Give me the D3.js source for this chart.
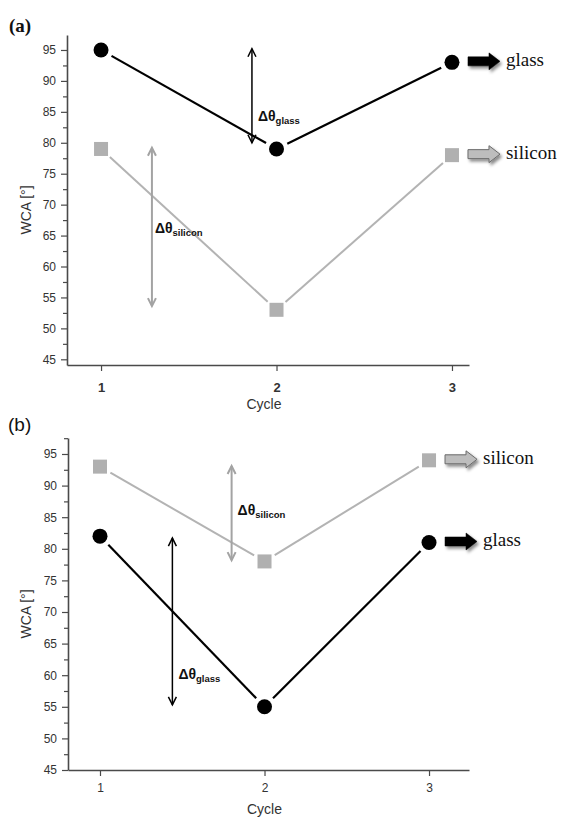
<!DOCTYPE html>
<html>
<head>
<meta charset="utf-8">
<script src="https://cdn.jsdelivr.net/npm/d3@7"></script>
<style>
  html, body { margin: 0; padding: 0; background: #fff; }
  svg { display: block; }
</style>
</head>
<body>
<script>
// ---- data ----
const cycles = [1, 2, 3];
const xTickLabels = ["1", "2", "3"];
const yTickValues = [45, 50, 55, 60, 65, 70, 75, 80, 85, 90, 95];

// water contact angle per cycle, panel (a)
const glassA = [95, 79, 93];
const siliconA = [79, 53, 78];
// panel (b)
const siliconB = [93, 78, 94];
const glassB = [82, 55, 81];

// Δθ spans: [cycle position, from WCA, to WCA, label WCA]
const deltaGlassA = [1.86, 95.2, 80.0, 83.5];
const deltaSiliconA = [1.29, 79.2, 53.6, 65.4];
const deltaSiliconB = [1.80, 93.1, 78.2, 85.3];
const deltaGlassB = [1.44, 81.7, 55.3, 59.4];

// ---- look ----
const BLACK = "#000";
const GREY_LINE = "#b3b3b3";
const GREY_MARK = "#b0b0b0";
const GREY_ARROW = "#a3a3a3";
const AXIS = "#4a4a4a";
const SANS = "'Liberation Sans', Arial, sans-serif";
const SERIF = "'Liberation Serif', 'Times New Roman', serif";

const W = 562, H = 820;
const svg = d3.select("body").append("svg").attr("width", W).attr("height", H);

const defs = svg.append("defs");
const shadow = defs.append("filter").attr("id", "shadow")
  .attr("x", "-30%").attr("y", "-50%").attr("width", "170%").attr("height", "220%");
shadow.append("feDropShadow").attr("dx", 2).attr("dy", 2.5).attr("stdDeviation", 1.6)
  .attr("flood-color", "#000").attr("flood-opacity", 0.45);

const panels = [
  {
    tag: "(a)", tagFont: SERIF, tagWeight: "bold", tagX: 9, tagY: 32,
    box: { l: 67, r: 469, t: 35, b: 365 },
    xDomain: [0.806, 3.097], yDomain: [44.08, 97.42],
    xBold: true, xFont: 13, xLabelDy: 27, titleDy: 44,
    series: [
      { name: "glass", values: glassA, kind: "glass" },
      { name: "silicon", values: siliconA, kind: "silicon" }
    ],
    deltas: [
      { span: deltaGlassA, kind: "glass", sub: "glass", dx: 6 },
      { span: deltaSiliconA, kind: "silicon", sub: "silicon", dx: 3 }
    ]
  },
  {
    tag: "(b)", tagFont: SANS, tagWeight: "normal", tagX: 8, tagY: 431,
    box: { l: 68, r: 469, t: 438, b: 770 },
    xDomain: [0.8055, 3.243], yDomain: [45, 97.53],
    xBold: false, xFont: 12, xLabelDy: 22, titleDy: 44,
    series: [
      { name: "silicon", values: siliconB, kind: "silicon" },
      { name: "glass", values: glassB, kind: "glass" }
    ],
    deltas: [
      { span: deltaSiliconB, kind: "silicon", sub: "silicon", dx: 6 },
      { span: deltaGlassB, kind: "glass", sub: "glass", dx: 6 }
    ]
  }
];

function drawPanel(p) {
  const g = svg.append("g");
  const x = d3.scaleLinear().domain(p.xDomain).range([p.box.l, p.box.r]);
  const y = d3.scaleLinear().domain(p.yDomain).range([p.box.b, p.box.t]);

  // panel tag
  g.append("text").attr("x", p.tagX).attr("y", p.tagY)
    .attr("font-family", p.tagFont).attr("font-weight", p.tagWeight)
    .attr("font-size", 19).attr("fill", "#111").text(p.tag);

  // y axis: minor ticks then major ticks with labels
  const minor = d3.range(47.5, p.yDomain[1] + 0.001, 5);
  g.append("g").attr("transform", `translate(${p.box.l},0)`)
    .call(d3.axisLeft(y).tickValues(minor).tickSize(4).tickSizeOuter(0).tickFormat(""))
    .call(a => a.select(".domain").remove())
    .call(a => a.selectAll("line").attr("stroke", AXIS).attr("stroke-width", 1.2));
  const yAx = g.append("g").attr("transform", `translate(${p.box.l},0)`)
    .call(d3.axisLeft(y).tickValues(yTickValues).tickSize(6).tickSizeOuter(0).tickPadding(5));
  yAx.select(".domain").attr("stroke", AXIS).attr("stroke-width", 1.6);
  yAx.selectAll("line").attr("stroke", AXIS).attr("stroke-width", 1.2);
  yAx.selectAll("text").attr("font-family", SANS).attr("font-size", 12).attr("fill", "#333");

  // x axis
  const xAx = g.append("g").attr("transform", `translate(0,${p.box.b})`)
    .call(d3.axisBottom(x).tickValues(cycles).tickSize(6).tickSizeOuter(0).tickPadding(5)
      .tickFormat((d, i) => xTickLabels[i]));
  xAx.select(".domain").attr("stroke", AXIS).attr("stroke-width", 1.6);
  xAx.selectAll("line").attr("stroke", AXIS).attr("stroke-width", 1.2);
  xAx.selectAll("text").attr("font-family", SANS).attr("font-size", p.xFont)
    .attr("font-weight", p.xBold ? "bold" : "normal").attr("fill", "#333")
    .attr("y", p.xLabelDy).attr("dy", 0);

  // axis titles
  g.append("text").attr("x", (p.box.l + p.box.r) / 2 - 4).attr("y", p.box.b + p.titleDy)
    .attr("text-anchor", "middle").attr("font-family", SANS).attr("font-size", 14)
    .attr("fill", "#333").text("Cycle");
  const ty = (p.box.t + p.box.b) / 2 + 10;
  g.append("text").attr("transform", `translate(31,${ty}) rotate(-90)`)
    .attr("text-anchor", "middle").attr("font-family", SANS).attr("font-size", 14)
    .attr("fill", "#333").text("WCA [°]");

  // series
  p.series.forEach(s => {
    const col = s.kind === "glass" ? BLACK : GREY_LINE;
    const pts = s.values.map((v, i) => [x(cycles[i]), y(v)]);
    const gap = 12;
    for (let i = 0; i < pts.length - 1; i++) {
      const [x0, y0] = pts[i], [x1, y1] = pts[i + 1];
      const len = Math.hypot(x1 - x0, y1 - y0);
      const ux = (x1 - x0) / len, uy = (y1 - y0) / len;
      g.append("line")
        .attr("x1", x0 + ux * gap).attr("y1", y0 + uy * gap)
        .attr("x2", x1 - ux * gap).attr("y2", y1 - uy * gap)
        .attr("stroke", col).attr("stroke-width", s.kind === "glass" ? 2.2 : 2);
    }
    if (s.kind === "glass") {
      g.selectAll(null).data(pts).enter().append("circle")
        .attr("cx", d => d[0]).attr("cy", d => d[1]).attr("r", 7.5).attr("fill", BLACK);
    } else {
      g.selectAll(null).data(pts).enter().append("rect")
        .attr("x", d => d[0] - 7).attr("y", d => d[1] - 7)
        .attr("width", 14).attr("height", 14).attr("fill", GREY_MARK);
    }

    // block arrow + name beside the last point
    const [lx, ly] = pts[pts.length - 1];
    const ax0 = lx + 16, ax1 = ax0 + 32, cy = ly - 1;
    const shaftH = 9, headH = 17, headL = 11;
    const path = [
      [ax0, cy - shaftH / 2], [ax1 - headL, cy - shaftH / 2], [ax1 - headL, cy - headH / 2],
      [ax1, cy], [ax1 - headL, cy + headH / 2], [ax1 - headL, cy + shaftH / 2], [ax0, cy + shaftH / 2]
    ];
    g.append("path").attr("d", "M" + path.map(q => q.join(",")).join("L") + "Z")
      .attr("fill", s.kind === "glass" ? BLACK : "#bdbdbd")
      .attr("stroke", s.kind === "glass" ? BLACK : "#6a6a6a")
      .attr("stroke-width", s.kind === "glass" ? 0.5 : 1)
      .attr("filter", "url(#shadow)");
    g.append("text").attr("x", ax1 + 6).attr("y", cy + 5)
      .attr("font-family", SERIF).attr("font-size", 19).attr("fill", "#111").text(s.name);
  });

  // Δθ double arrows and labels
  p.deltas.forEach(d => {
    const [cx, v0, v1, vl] = d.span;
    const col = d.kind === "glass" ? BLACK : GREY_ARROW;
    const px = x(cx), y0 = y(v0), y1 = y(v1);
    const ga = g.append("g").attr("stroke", col).attr("fill", "none")
      .attr("stroke-width", d.kind === "glass" ? 1.5 : 2);
    ga.append("line").attr("x1", px).attr("x2", px).attr("y1", y0).attr("y2", y1);
    ga.append("polyline").attr("points", `${px - 4},${y0 + 8} ${px},${y0} ${px + 4},${y0 + 8}`);
    ga.append("polyline").attr("points", `${px - 4},${y1 - 8} ${px},${y1} ${px + 4},${y1 - 8}`);
    const t = g.append("text").attr("x", px + d.dx).attr("y", y(vl))
      .attr("font-family", SANS).attr("font-weight", "bold").attr("font-size", 14).attr("fill", "#111");
    t.append("tspan").text("Δθ");
    t.append("tspan").attr("dy", 3).attr("font-size", 9.5).text(d.sub);
  });
}

panels.forEach(drawPanel);
</script>
</body>
</html>
